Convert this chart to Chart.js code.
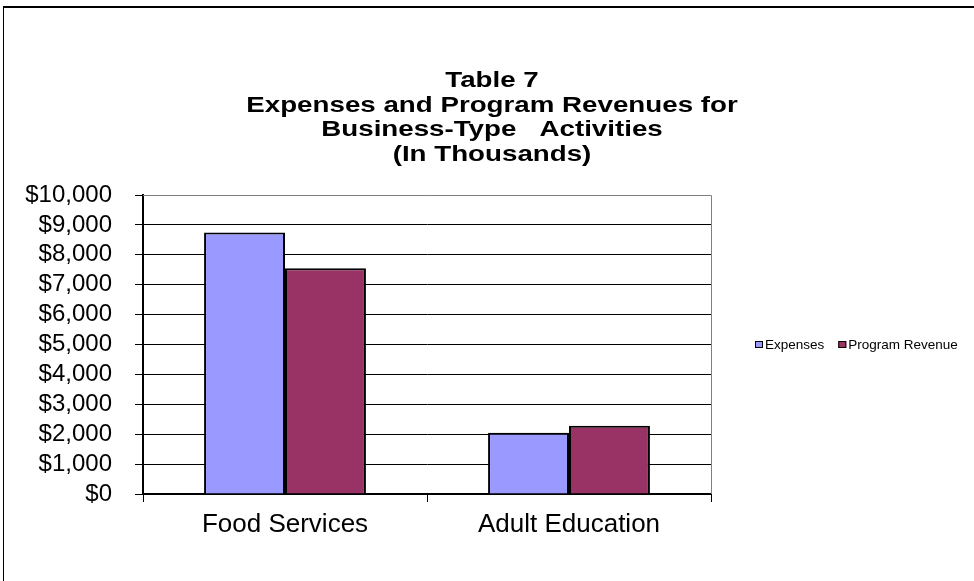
<!DOCTYPE html>
<html>
<head>
<meta charset="utf-8">
<script src="https://cdn.jsdelivr.net/npm/chart.js@4.4.0/dist/chart.umd.min.js"></script>
<style>
  body { margin: 0; background: #fff; }
  #wrap { position: relative; width: 974px; height: 581px; overflow: hidden; }
  #frame { position: absolute; left: 3px; top: 6px; right: -10px; bottom: -10px;
           border-top: 2px solid #000; border-left: 1px solid #000; pointer-events: none; }
  canvas { position: absolute; left: 0; top: 0; }
</style>
</head>
<body>
<div id="wrap">
  <canvas id="chart" width="974" height="581"></canvas>
  <div id="frame"></div>
</div>
<script>
const categories = ["Food Services", "Adult Education"];
const expenses = [8750, 2050];
const programRevenue = [7550, 2280];
const titleLines = ["Table 7", "Expenses and Program Revenues for", "Business-Type   Activities", "(In Thousands)"];

const FONT = "'Liberation Sans', Arial, sans-serif";
Chart.defaults.font.family = FONT;
Chart.defaults.color = "#000";

// title (stretched wide like the original), grey plot border and the legend row
const decorations = {
  id: "decorations",
  afterDraw(chart) {
    const { ctx, chartArea: a } = chart;
    ctx.save();

    // title block
    ctx.font = "bold 22px " + FONT;
    ctx.textAlign = "center";
    ctx.textBaseline = "middle";
    ctx.fillStyle = "#000";
    titleLines.forEach((line, i) => {
      ctx.save();
      ctx.translate(492, 81 + i * 24.5);
      ctx.scale(1.26, 1);
      ctx.fillText(line, 0, 0);
      ctx.restore();
    });

    // plot area border (top / right)
    ctx.strokeStyle = "#808080";
    ctx.lineWidth = 1;
    ctx.beginPath();
    ctx.moveTo(a.left, a.top + 0.5);
    ctx.lineTo(a.right + 0.5, a.top + 0.5);
    ctx.lineTo(a.right + 0.5, a.bottom);
    ctx.stroke();

    // legend
    ctx.font = "13.5px " + FONT;
    ctx.textAlign = "left";
    let x = 755;
    const y = Math.round((a.top + a.bottom) / 2);
    chart.data.datasets.forEach(ds => {
      ctx.fillStyle = ds.backgroundColor;
      ctx.fillRect(x, y - 4, 8, 7);
      ctx.strokeStyle = "#000";
      ctx.strokeRect(x + 0.5, y - 3.5, 7, 6);
      ctx.fillStyle = "#000";
      ctx.fillText(ds.label, x + 10, y);
      x += 10 + ctx.measureText(ds.label).width + 14;
    });
    ctx.restore();
  }
};

new Chart(document.getElementById("chart"), {
  type: "bar",
  plugins: [decorations],
  data: {
    labels: categories,
    datasets: [
      { label: "Expenses", data: expenses, backgroundColor: "#9999FF", borderColor: "#000", borderWidth: 2 },
      { label: "Program Revenue", data: programRevenue, backgroundColor: "#993366", borderColor: "#000", borderWidth: 2 }
    ]
  },
  options: {
    responsive: false,
    animation: false,
    devicePixelRatio: 1,
    layout: { padding: { left: 0, right: 263, top: 195, bottom: 0 } },
    datasets: { bar: { categoryPercentage: 0.57, barPercentage: 1.0 } },
    plugins: {
      legend: { display: false },
      tooltip: { enabled: false },
      title: { display: false }
    },
    scales: {
      x: {
        afterFit: s => { s.height = 87; },
        grid: { offset: true, drawOnChartArea: false, tickLength: 8, color: "#000", lineWidth: 1 },
        border: { color: "#000", width: 2 },
        ticks: { font: { size: 26 }, padding: 7, color: "#000" }
      },
      y: {
        min: 0,
        max: 10000,
        afterFit: s => { s.width = 143; },
        ticks: {
          stepSize: 1000,
          autoSkip: false,
          font: { size: 24 },
          padding: 23,
          color: "#000",
          callback: v => "$" + v.toLocaleString("en-US")
        },
        grid: {
          color: c => (c.tick && c.tick.value === 10000 ? "#808080" : "#000"),
          tickColor: "#000",
          tickLength: 8,
          lineWidth: 1
        },
        border: { color: "#000", width: 2 }
      }
    }
  }
});
</script>
</body>
</html>
